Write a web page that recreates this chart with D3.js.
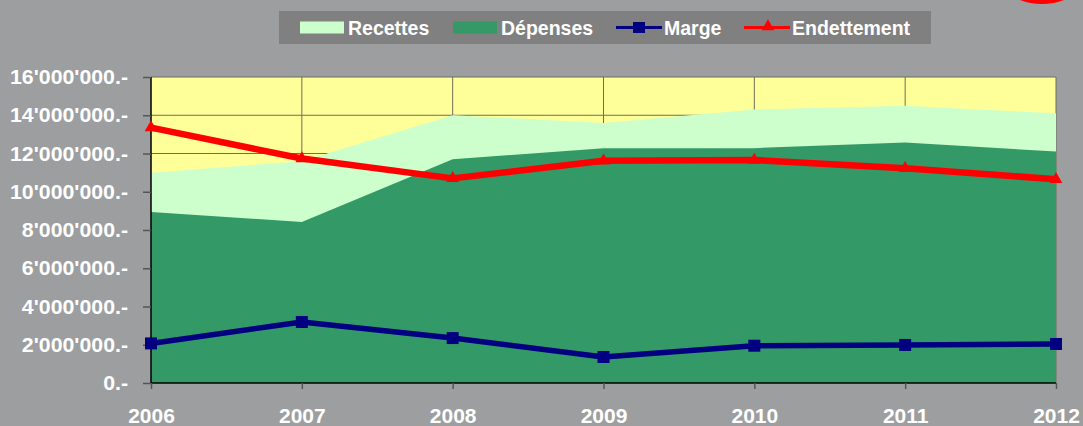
<!DOCTYPE html>
<html>
<head>
<meta charset="utf-8">
<script src="https://cdn.jsdelivr.net/npm/d3@7"></script>
<style>
  body { margin: 0; background: #9d9ea0; }
  svg { display: block; font-family: 'Liberation Sans', Arial, sans-serif; }
</style>
</head>
<body>
<svg width="1083" height="426"></svg>
<script>
const years = [2006, 2007, 2008, 2009, 2010, 2011, 2012];
const recettes = [11000000, 11600000, 14000000, 13600000, 14300000, 14500000, 14100000];
const depenses = [8940000, 8420000, 11700000, 12270000, 12280000, 12580000, 12100000];
const marge = [2070000, 3190000, 2350000, 1360000, 1950000, 1990000, 2040000];
const endettement = [13350000, 11740000, 10700000, 11620000, 11660000, 11230000, 10650000];
const yTicks = [0, 2000000, 4000000, 6000000, 8000000, 10000000, 12000000, 14000000, 16000000];
const seriesNames = ['Recettes', 'Dépenses', 'Marge', 'Endettement'];

const svg = d3.select('svg');
const plot = { left: 151, right: 1056, top: 77, bottom: 383 };

const x = d3.scalePoint().domain(years).range([plot.left, plot.right]);
const y = d3.scaleLinear().domain([0, 16000000]).range([plot.bottom, plot.top]);

// 2000000 -> 2'000'000.-
function fmt(v) {
    if (v === 0) return '0.-';
    return d3.format(',')(v).replace(/,/g, "'") + '.-';
}

// red ellipse fragment top right
svg.append('ellipse')
    .attr('cx', 1042).attr('cy', -40)
    .attr('rx', 50).attr('ry', 42)
    .attr('fill', 'none').attr('stroke', '#ff0000').attr('stroke-width', 4);

// plot background
svg.append('rect')
    .attr('x', plot.left).attr('y', plot.top)
    .attr('width', plot.right - plot.left).attr('height', plot.bottom - plot.top)
    .attr('fill', '#ffff99');

// gridlines
svg.append('g').selectAll('line')
    .data(yTicks.slice(1))
    .join('line')
    .attr('x1', plot.left).attr('x2', plot.right)
    .attr('y1', d => y(d)).attr('y2', d => y(d))
    .attr('stroke', '#6e6e5c').attr('stroke-width', 1);
svg.append('g').selectAll('line')
    .data(years.slice(1))
    .join('line')
    .attr('x1', d => x(d)).attr('x2', d => x(d))
    .attr('y1', plot.top).attr('y2', plot.bottom)
    .attr('stroke', '#6e6e5c').attr('stroke-width', 1);

// areas
const area = vals => d3.area()
    .x((d, i) => x(years[i]))
    .y0(y(0))
    .y1(d => y(d))(vals);

svg.append('path').attr('d', area(recettes)).attr('fill', '#ccffcc');
svg.append('path').attr('d', area(depenses)).attr('fill', '#339966');

// axes
const yAxis = svg.append('g')
    .attr('transform', `translate(${plot.left},0)`)
    .call(d3.axisLeft(y).tickValues(yTicks).tickFormat(fmt).tickSize(8).tickPadding(15));
const xAxis = svg.append('g')
    .attr('transform', `translate(0,${plot.bottom})`)
    .call(d3.axisBottom(x).tickSize(6).tickPadding(19).tickFormat(d => d));

[yAxis, xAxis].forEach(g => {
    g.attr('font-size', null).attr('font-family', null);
    g.select('.domain').attr('stroke', '#000').attr('stroke-width', 1.5);
    g.selectAll('.tick line').attr('stroke', '#555').attr('stroke-width', 1.5);
    g.selectAll('.tick text')
        .attr('fill', '#ffffff')
        .style('font-size', '21px')
        .style('font-weight', 'bold');
});
yAxis.select('.domain').attr('d', `M0,${plot.top}V${plot.bottom}`);
xAxis.select('.domain').attr('d', `M${plot.left},0H${plot.right}`);

// stretch y labels slightly to the reference width
const yText = yAxis.selectAll('.tick text');
const widest = d3.max(yText.nodes(), n => n.getComputedTextLength());
const yk = 118 / widest;
yText.each(function() {
    d3.select(this)
        .attr('textLength', this.getComputedTextLength() * yk)
        .attr('lengthAdjust', 'spacingAndGlyphs');
});

// lines
const line = d3.line().x((d, i) => x(years[i])).y(d => y(d));

svg.append('path').attr('d', line(marge))
    .attr('fill', 'none').attr('stroke', '#000080').attr('stroke-width', 5.5)
    .attr('stroke-linejoin', 'round');
svg.append('g').selectAll('rect')
    .data(marge)
    .join('rect')
    .attr('x', (d, i) => x(years[i]) - 6).attr('y', d => y(d) - 6)
    .attr('width', 12).attr('height', 12)
    .attr('fill', '#000080');

svg.append('path').attr('d', line(endettement))
    .attr('fill', 'none').attr('stroke', '#ff0000').attr('stroke-width', 6.5)
    .attr('stroke-linejoin', 'round');
const tri = d3.symbol().type(d3.symbolTriangle).size(70);
svg.append('g').selectAll('path')
    .data(endettement)
    .join('path')
    .attr('d', tri)
    .attr('transform', (d, i) => `translate(${x(years[i])},${y(d)})`)
    .attr('fill', '#ff0000');

// legend
const legend = svg.append('g');
legend.append('rect')
    .attr('x', 279).attr('y', 11).attr('width', 652).attr('height', 33)
    .attr('fill', '#808080');

const legendX = [300, 453, 616, 744];
const legendKind = ['area', 'area', 'square', 'triangle'];
const legendColor = ['#ccffcc', '#339966', '#000080', '#ff0000'];

seriesNames.forEach((name, i) => {
    const g = legend.append('g');
    const lx = legendX[i];
    if (legendKind[i] === 'area') {
        g.append('rect').attr('x', lx).attr('y', 21.5)
            .attr('width', 44).attr('height', 12).attr('fill', legendColor[i]);
    } else {
        g.append('line').attr('x1', lx).attr('x2', lx + 46)
            .attr('y1', 27.5).attr('y2', 27.5)
            .attr('stroke', legendColor[i]).attr('stroke-width', 3);
        if (legendKind[i] === 'square') {
            g.append('rect').attr('x', lx + 17).attr('y', 22)
                .attr('width', 12).attr('height', 11).attr('fill', legendColor[i]);
        } else {
            g.append('path').attr('d', d3.symbol().type(d3.symbolTriangle).size(70))
                .attr('transform', `translate(${lx + 24},26.5)`)
                .attr('fill', legendColor[i]);
        }
    }
    g.append('text')
        .attr('x', lx + 48).attr('y', 35)
        .attr('fill', '#ffffff')
        .attr('font-size', 19.5)
        .attr('font-weight', 'bold')
        .text(name);
});
</script>
</body>
</html>
